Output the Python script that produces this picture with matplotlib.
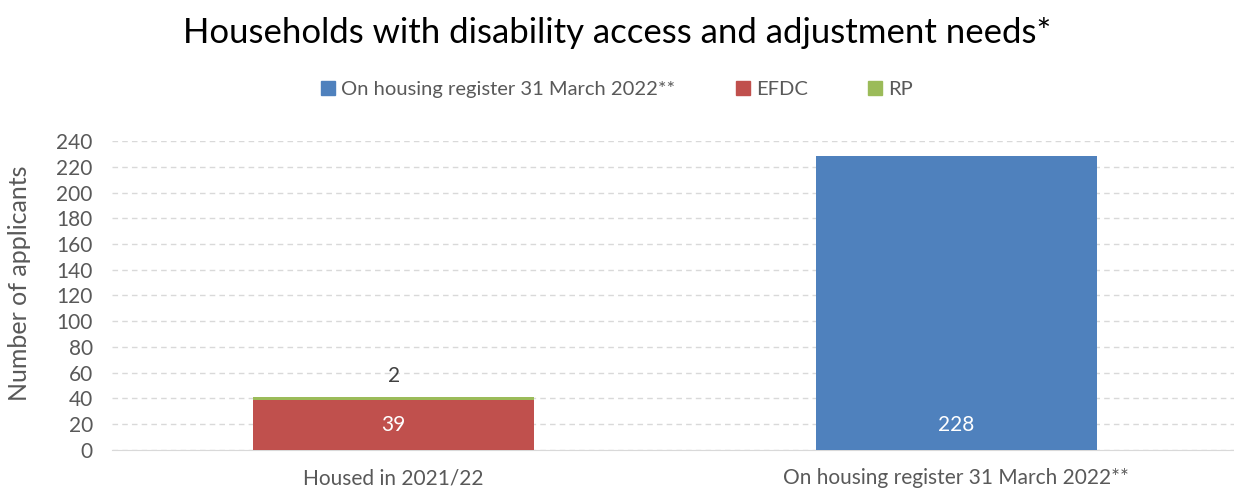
import matplotlib
matplotlib.use("Agg")
from matplotlib import pyplot as plt
from matplotlib.patches import Patch
import numpy as np

categories = ["Housed in 2021/22", "On housing register 31 March 2022**"]
register = [0, 228]
efdc = [39, 0]
rp = [2, 0]
series_names = ["On housing register 31 March 2022**", "EFDC", "RP"]
yticks = list(range(0, 241, 20))

blue = "#4F81BD"
red = "#C0504D"
green = "#9BBB59"
grey = "#595959"

plt.rcParams['font.family'] = ['Lato', 'DejaVu Sans']

fig = plt.figure(figsize=(12.34, 4.92), dpi=100)
ax = fig.add_axes([0.091, 0.0854, 0.912, 0.628])

x = np.arange(len(categories))
w = 0.5
ax.bar(x, register, w, color=blue, zorder=3)
ax.bar(x, efdc, w, bottom=register, color=red, zorder=3)
bottom2 = np.array(register) + np.array(efdc)
ax.bar(x, rp, w, bottom=bottom2, color=green, zorder=3)

# data labels
ax.text(x[0], efdc[0] / 2, str(efdc[0]), ha="center", va="center",
        color="white", fontsize=15, zorder=4)
ax.text(x[1], efdc[0] / 2, str(register[1]), ha="center", va="center",
        color="white", fontsize=15, zorder=4)
ax.annotate(str(rp[0]), (x[0], bottom2[0] + rp[0]), xytext=(0, 15),
            textcoords="offset points", ha="center", va="center",
            color="#404040", fontsize=15)

ax.set_xlim(-0.5, 1.5)
ax.set_ylim(0, 240)
ax.set_yticks(yticks)
ax.set_xticks(x)
ax.set_xticklabels(categories)
ax.tick_params(axis="both", length=0, labelsize=15, colors=grey)
ax.tick_params(axis="x", pad=13)
ax.tick_params(axis="y", pad=14)
ax.yaxis.grid(True, linestyle=(0, (4, 3)), color="#D9D9D9", linewidth=1, zorder=0)
for s in ["top", "right", "left"]:
    ax.spines[s].set_visible(False)
ax.spines["bottom"].set_color("#D9D9D9")
ax.set_ylabel("Number of applicants", fontsize=18, color=grey)
ax.yaxis.set_label_coords(-0.072, 0.54)

fig.suptitle("Households with disability access and adjustment needs*",
             fontsize=25, color="black", y=0.965)

handles = [Patch(color=blue), Patch(color=red), Patch(color=green)]
fig.legend(handles, series_names, loc="center", bbox_to_anchor=(0.5, 0.818),
           ncol=3, frameon=False, fontsize=14.5, labelcolor=grey,
           handlelength=0.7, handleheight=0.7, handletextpad=0.3, columnspacing=3)

fig.savefig("out.png", dpi=100)
